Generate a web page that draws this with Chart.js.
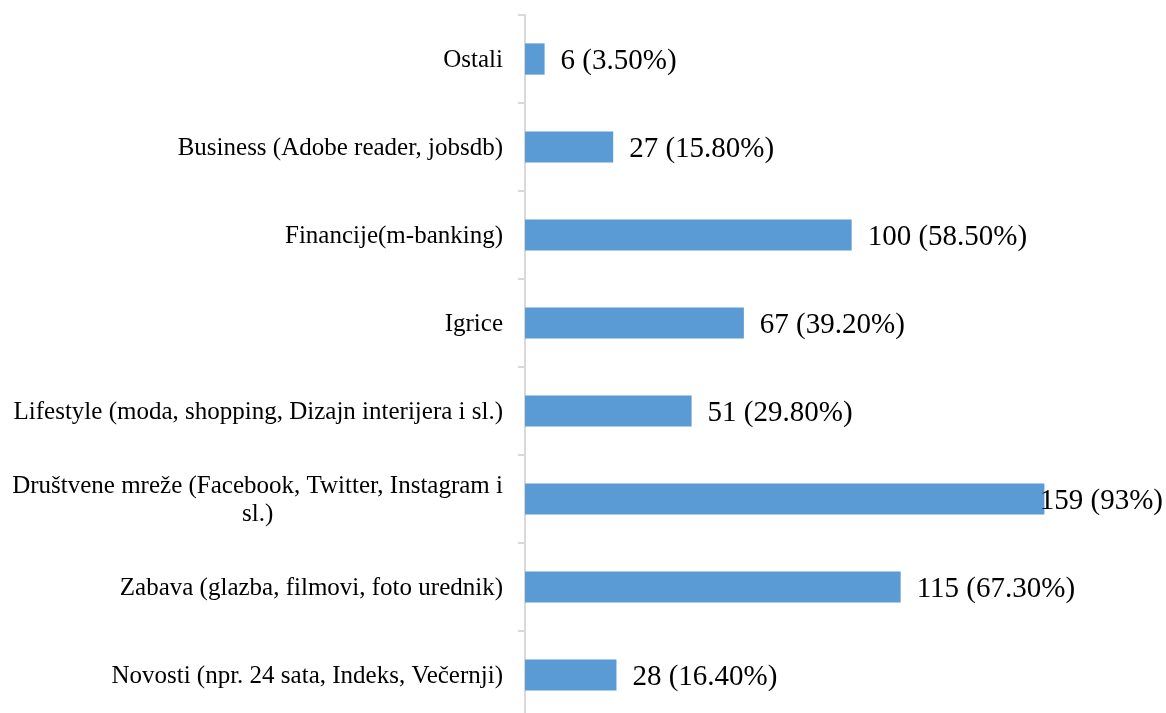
<!DOCTYPE html>
<html>
<head>
<meta charset="utf-8">
<script src="https://cdn.jsdelivr.net/npm/chart.js@4"></script>
<style>
	html, body { margin: 0; padding: 0; background: #fff; overflow: hidden; }
</style>
</head>
<body>
<canvas id="chart" width="1166" height="722"></canvas>
<script>
const categories = [
	"Ostali",
	"Business (Adobe reader, jobsdb)",
	"Financije(m-banking)",
	"Igrice",
	"Lifestyle (moda, shopping, Dizajn interijera i sl.)",
	["Društvene mreže (Facebook, Twitter, Instagram i", "sl.)"],
	"Zabava (glazba, filmovi, foto urednik)",
	"Novosti (npr. 24 sata, Indeks, Večernji)",
];
const counts = [6, 27, 100, 67, 51, 159, 115, 28];
const percents = ["3.50%", "15.80%", "58.50%", "39.20%", "29.80%", "93%", "67.30%", "16.40%"];

const labelFont = "25px 'Liberation Serif', 'Times New Roman', serif";
const valueFont = "29px 'Liberation Serif', 'Times New Roman', serif";

// category labels: right aligned, wrapped lines centred on each other
const categoryLabels = {
	id: "categoryLabels",
	afterDraw(chart) {
		const ctx = chart.ctx;
		const yScale = chart.scales.y;
		const right = chart.chartArea.left - 22;
		ctx.save();
		ctx.font = labelFont;
		ctx.fillStyle = "#000";
		ctx.textBaseline = "middle";
		categories.forEach((label, i) => {
			const y = yScale.getPixelForValue(i) + 1;
			if (Array.isArray(label)) {
				const widest = Math.max(...label.map((l) => ctx.measureText(l).width));
				ctx.textAlign = "center";
				const lineHeight = 28;
				const top = y - ((label.length - 1) * lineHeight) / 2;
				label.forEach((line, j) => ctx.fillText(line, right - widest / 2, top + j * lineHeight));
			} else {
				ctx.textAlign = "right";
				ctx.fillText(label, right, y);
			}
		});
		ctx.restore();
	},
};

// value labels at the end of each bar, kept inside the canvas
const valueLabels = {
	id: "valueLabels",
	afterDatasetsDraw(chart) {
		const ctx = chart.ctx;
		const bars = chart.getDatasetMeta(0).data;
		ctx.save();
		ctx.font = valueFont;
		ctx.fillStyle = "#000";
		ctx.textBaseline = "middle";
		ctx.textAlign = "left";
		bars.forEach((bar, i) => {
			const text = counts[i] + " (" + percents[i] + ")";
			const w = ctx.measureText(text).width;
			let x = bar.x + 16;
			if (x + w > chart.width - 3) {
				x = chart.width - 3 - w;
			}
			ctx.fillText(text, x, bar.y + 2);
		});
		ctx.restore();
	},
};

new Chart(document.getElementById("chart"), {
	type: "bar",
	data: {
		labels: categories,
		datasets: [
			{
				data: counts,
				backgroundColor: "#5b9bd5",
				categoryPercentage: 1,
				barPercentage: 0.355,
			},
		],
	},
	options: {
		indexAxis: "y",
		responsive: false,
		animation: false,
		layout: {
			padding: { top: 15, bottom: 3, left: 0, right: 53 },
		},
		plugins: {
			legend: { display: false },
			tooltip: { enabled: false },
		},
		scales: {
			x: {
				display: false,
				min: 0,
				max: 180,
			},
			y: {
				offset: true,
				grid: {
					offset: true,
					drawOnChartArea: false,
					drawTicks: true,
					tickLength: 7,
					color: "#d9d9d9",
					lineWidth: 2,
				},
				border: { display: true, color: "#d9d9d9", width: 2 },
				ticks: { display: false },
				afterFit(scale) {
					scale.width = 525;
				},
			},
		},
	},
	plugins: [categoryLabels, valueLabels],
});
</script>
</body>
</html>
